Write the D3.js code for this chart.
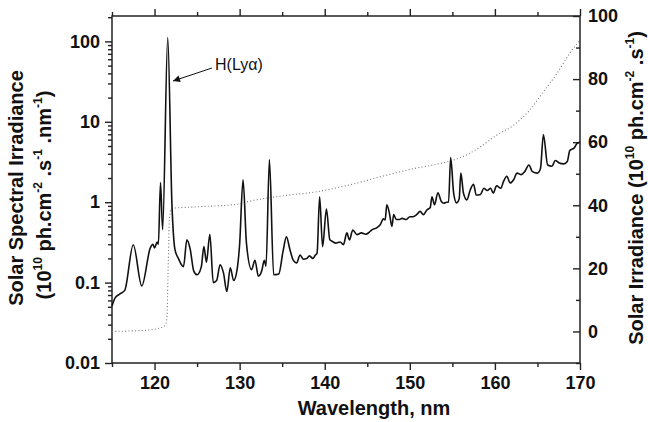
<!DOCTYPE html>
<html><head><meta charset="utf-8">
<script src="https://cdn.jsdelivr.net/npm/d3@7"></script>
<style>
html,body{margin:0;padding:0;background:#fff;}
svg{display:block;font-family:"Liberation Sans",Arial,sans-serif;}
</style></head>
<body><svg id="c" width="648" height="422"></svg>
<script>
// ---- data ----
const specWl = [115.0,115.35,115.9,116.5,117.5,118.5,119.5,119.8,120.0,120.3,120.45,120.7,120.95,121.55,122.05,122.4,122.8,123.4,123.8,124.2,124.6,125.0,125.5,125.8,126.1,126.5,126.9,127.3,127.7,128.1,128.5,128.9,129.3,129.7,130.0,130.4,130.8,131.4,131.8,132.2,132.6,132.9,133.1,133.5,134.0,134.6,135.1,135.5,135.9,136.3,136.7,137.1,137.5,137.9,138.2,138.6,138.9,139.1,139.4,139.75,140.2,140.6,140.9,141.3,141.8,142.2,142.6,142.9,143.3,143.8,144.3,144.8,145.2,145.5,146.1,146.5,146.9,147.1,147.3,147.6,147.9,148.1,148.4,148.8,149.1,149.6,150.0,150.4,150.8,151.2,151.6,152.0,152.4,152.6,152.9,153.3,153.7,154.0,154.3,154.55,154.8,155.15,155.5,155.8,156.0,156.3,156.7,157.1,157.5,157.8,158.3,158.7,159.1,159.5,159.8,160.2,160.7,161.0,161.4,161.8,162.2,162.6,163.1,163.5,164.0,164.4,165.0,165.35,165.7,166.2,166.7,167.1,167.5,168.1,168.5,168.8,169.3,169.6,170.0];
const specVal = [0.051,0.064,0.072,0.080,0.296,0.091,0.27,0.30,0.27,0.32,0.30,1.76,0.455,112,0.9,0.257,0.20,0.158,0.34,0.257,0.14,0.125,0.158,0.28,0.18,0.40,0.10,0.106,0.167,0.132,0.0775,0.153,0.106,0.145,0.30,1.9,0.31,0.145,0.19,0.12,0.14,0.19,0.16,3.38,0.125,0.128,0.245,0.37,0.26,0.19,0.175,0.22,0.195,0.20,0.215,0.20,0.22,0.233,1.17,0.28,0.82,0.34,0.325,0.31,0.32,0.297,0.415,0.34,0.45,0.395,0.415,0.40,0.42,0.45,0.48,0.52,0.62,0.60,0.93,0.73,0.50,0.70,0.61,0.61,0.63,0.61,0.66,0.66,0.70,0.77,0.70,0.80,0.86,1.17,0.93,1.31,1.02,0.97,1.0,1.0,3.6,1.3,0.98,1.1,2.3,1.3,1.07,1.42,1.67,1.23,1.25,1.49,1.40,1.49,1.30,1.6,1.49,1.8,2.1,1.73,1.9,2.3,2.2,2.4,2.9,2.4,2.3,2.6,6.9,2.9,2.8,3.3,3.1,3.0,3.2,4.4,4.7,5.3,5.6];
const cumWl  = [115,116.5,118,119.5,120.5,121.2,121.45,121.6,121.75,122.0,125.0,129.7,131.2,135.1,139.1,143.0,146.9,150.8,152.4,154.7,156.3,158,160.2,162.2,164.1,165.7,167.3,168.8,170];
const cumVal = [0,0.1,0.25,0.5,1.0,1.8,4,20,36,39,39.5,40.3,41.3,43.0,44.3,46.5,49.3,51.8,52.6,54.0,55.5,58,62.2,65.4,70.2,76,81.8,88.2,92.4];
const xTicks = [120,130,140,150,160,170];
const xMinor = [115,125,135,145,155,165];
const yLeftTicks = [0.01,0.1,1,10,100];
const yLeftLabels = ["0.01","0.1","1","10","100"];
const yRightTicks = [0,20,40,60,80,100];
const yRightMinor = [-10,10,30,50,70,90];

// ---- layout ----
const L=112, R=580, T=16, B=363;
const svg = d3.select("#c");
const x = d3.scaleLinear().domain([115,170]).range([L,R]);
const yL = d3.scaleLog().domain([0.01, Math.pow(10,-2+(B-T)/80.4)]).range([B,T]);
const yR = d3.scaleLinear().domain([-10,100]).range([B,T]);

const leftMinor = [];
[0.01,0.1,1,10,100].forEach(d=>{for(let k=2;k<=9;k++){const v=d*k; if(v<=yL.domain()[1]) leftMinor.push(v);}});

const axisColor="#222";
const tf = "'Liberation Sans',Arial,sans-serif";
function styleAxis(g){g.select(".domain").remove();g.selectAll("line").attr("stroke",axisColor).attr("stroke-width",1.4);g.selectAll("text").attr("fill","#111").attr("font-weight","bold").attr("font-size",18).attr("font-family",tf);}

// bottom
svg.append("g").attr("transform",`translate(0,${B})`).call(d3.axisBottom(x).tickValues(xTicks).tickSize(7).tickPadding(6).tickFormat(d3.format("d"))).call(styleAxis);
svg.append("g").attr("transform",`translate(0,${B})`).call(d3.axisBottom(x).tickValues(xMinor).tickSize(4).tickFormat("")).call(styleAxis);
// top
svg.append("g").attr("transform",`translate(0,${T})`).call(d3.axisTop(x).tickValues(xTicks).tickSize(7).tickFormat("")).call(styleAxis);
svg.append("g").attr("transform",`translate(0,${T})`).call(d3.axisTop(x).tickValues(xMinor).tickSize(4).tickFormat("")).call(styleAxis);
// left
svg.append("g").attr("transform",`translate(${L},0)`).call(d3.axisLeft(yL).tickValues(yLeftTicks).tickSize(7).tickPadding(5).tickFormat((d,i)=>yLeftLabels[i])).call(styleAxis);
svg.append("g").attr("transform",`translate(${L},0)`).call(d3.axisLeft(yL).tickValues(leftMinor).tickSize(4).tickFormat("")).call(styleAxis);
// right
svg.append("g").attr("transform",`translate(${R},0)`).call(d3.axisRight(yR).tickValues(yRightTicks).tickSize(-7).tickPadding(8).tickFormat(d3.format("d"))).call(styleAxis);
svg.append("g").attr("transform",`translate(${R},0)`).call(d3.axisRight(yR).tickValues(yRightMinor).tickSize(-4).tickFormat("")).call(styleAxis);

// frame
svg.append("rect").attr("x",L).attr("y",T).attr("width",R-L).attr("height",B-T).attr("fill","none").attr("stroke",axisColor).attr("stroke-width",1.5);

// dotted cumulative line
const cum = cumWl.map((w,i)=>[w,cumVal[i]]);
svg.append("path").datum(cum).attr("fill","none").attr("stroke","#777").attr("stroke-width",1.1).attr("stroke-dasharray","1,2.3")
  .attr("d",d3.line().x(d=>x(d[0])).y(d=>yR(d[1])).curve(d3.curveMonotoneX));

// spectrum
const spec = specWl.map((w,i)=>[w,specVal[i]]);
svg.append("path").datum(spec).attr("fill","none").attr("stroke","#111").attr("stroke-width",1.6).attr("stroke-linejoin","round")
  .attr("d",d3.line().x(d=>x(d[0])).y(d=>yL(d[1])).curve(d3.curveMonotoneX));

// annotation
const defs = svg.append("defs");
defs.append("marker").attr("id","ah").attr("viewBox","0 0 10 10").attr("refX",10).attr("refY",5).attr("markerWidth",9).attr("markerHeight",7).attr("markerUnits","userSpaceOnUse").attr("orient","auto")
  .append("path").attr("d","M0,0 L10,5 L0,10 z").attr("fill","#111");
svg.append("line").attr("x1",212).attr("y1",68).attr("x2",173).attr("y2",81).attr("stroke","#111").attr("stroke-width",1).attr("marker-end","url(#ah)");
svg.append("text").attr("x",215).attr("y",70).attr("font-size",16).attr("fill","#111").text("H(Ly\u03B1)");

// axis titles
svg.append("text").attr("x",374).attr("y",415).attr("text-anchor","middle").attr("font-size",20).attr("font-weight","bold").attr("font-family",tf).attr("fill","#111").text("Wavelength, nm");

function supText(g, parts){
  let prevSup=false;
  parts.forEach(p=>{
    const s=g.append("tspan").text(p.t);
    if(p.sup){s.attr("font-size",12).attr("dy",-9);}
    else if(prevSup){s.attr("dy",9);}
    prevSup=!!p.sup;
  });
}
svg.append("text").attr("transform","translate(23,188) rotate(-90)").attr("text-anchor","middle").attr("font-size",20).attr("font-weight","bold").attr("font-family",tf).attr("fill","#111").text("Solar Spectral Irradiance");
const lt2 = svg.append("text").attr("transform","translate(51,195) rotate(-90)").attr("text-anchor","middle").attr("font-size",20).attr("font-weight","bold").attr("font-family",tf).attr("fill","#111");
supText(lt2,[{t:"(10"},{t:"10",sup:1},{t:" ph.cm"},{t:"-2",sup:1},{t:" .s"},{t:"-1",sup:1},{t:" .nm"},{t:"-1",sup:1},{t:")"}]);
const rt = svg.append("text").attr("transform","translate(643,188) rotate(-90)").attr("text-anchor","middle").attr("font-size",20).attr("font-weight","bold").attr("font-family",tf).attr("fill","#111");
supText(rt,[{t:"Solar Irradiance (10"},{t:"10",sup:1},{t:" ph.cm"},{t:"-2",sup:1},{t:" .s"},{t:"-1",sup:1},{t:")"}]);
</script></body></html>
